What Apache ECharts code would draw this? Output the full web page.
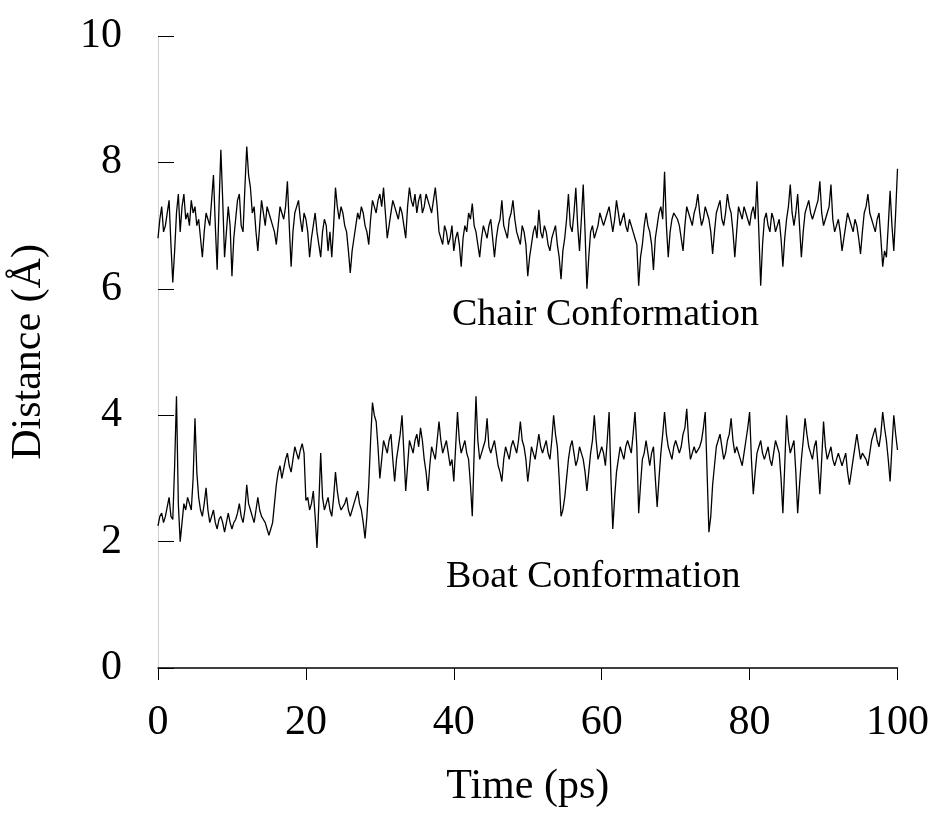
<!DOCTYPE html>
<html>
<head>
<meta charset="utf-8">
<title>Distance vs time</title>
<script src="https://cdn.jsdelivr.net/npm/echarts@6/dist/echarts.min.js"></script>
<style>
  html, body { margin: 0; padding: 0; background: #fff; }
  #chart { width: 932px; height: 816px; }
</style>
</head>
<body>
<div id="chart"></div>
<script>
// sampling step of the trajectory (ps)
var TIME_STEP = 0.25;

// chair conformation distance (A), every 0.25 ps
var chairDistance = [
  6.8, 7.1, 7.3, 6.9, 7.0, 7.2, 7.4, 6.7, 6.1, 6.6, 7.2, 7.5, 6.9, 7.3, 7.5, 7.1, 7.2, 7.0, 7.4, 7.2,
  7.3, 7.0, 7.1, 6.8, 6.5, 6.9, 7.2, 7.1, 7.0, 7.4, 7.8, 7.0, 6.3, 7.3, 8.2, 7.4, 6.5, 6.9, 7.3, 7.0,
  6.2, 6.8, 7.1, 7.4, 7.5, 7.0, 6.9, 7.6, 8.25, 7.8, 7.6, 7.2, 7.3, 6.9, 6.6, 7.0, 7.4, 7.2, 7.0, 7.3,
  7.3, 7.1, 7.0, 6.9, 6.7, 7.0, 7.3, 7.2, 7.1, 7.3, 7.7, 7.0, 6.35, 6.9, 7.2, 7.3, 7.4, 7.1, 6.9, 7.2,
  7.1, 6.9, 6.5, 6.8, 7.0, 7.2, 6.9, 6.7, 6.5, 6.9, 7.1, 7.0, 6.6, 6.9, 6.5, 7.0, 7.6, 7.3, 7.1, 7.3,
  7.2, 7.0, 6.9, 6.6, 6.25, 6.6, 6.8, 7.0, 7.2, 7.1, 7.3, 7.2, 7.0, 6.9, 6.7, 7.1, 7.4, 7.3, 7.2, 7.4,
  7.5, 7.3, 7.6, 7.2, 6.8, 7.0, 7.2, 7.4, 7.3, 7.2, 7.1, 7.3, 7.2, 7.0, 6.8, 7.3, 7.6, 7.4, 7.3, 7.5,
  7.2, 7.4, 7.5, 7.2, 7.3, 7.5, 7.4, 7.3, 7.2, 7.4, 7.6, 7.3, 6.9, 6.8, 6.7, 7.0, 6.9, 6.7, 6.8, 7.0,
  6.6, 6.8, 6.9, 6.7, 6.35, 6.8, 7.0, 6.9, 7.2, 7.1, 7.35, 7.0, 6.9, 6.7, 6.5, 6.8, 7.0, 6.9, 6.8, 7.0,
  7.1, 6.8, 6.5, 6.8, 7.0, 7.1, 7.4, 7.0, 6.9, 6.8, 7.1, 7.2, 7.4, 7.1, 6.9, 6.8, 6.7, 7.0, 6.9, 6.7,
  6.2, 6.5, 6.7, 6.9, 7.0, 6.8, 7.25, 6.9, 6.8, 7.0, 6.9, 6.7, 6.6, 6.8, 6.9, 7.0, 6.7, 6.5, 6.15, 6.6,
  6.8, 7.1, 7.5, 7.0, 6.9, 7.2, 7.6, 7.0, 6.6, 7.1, 7.65, 6.9, 6.0, 6.5, 6.9, 7.0, 6.8, 6.9, 7.0, 7.2,
  7.2, 7.0, 7.1, 7.2, 7.3, 7.1, 6.9, 7.1, 7.4, 7.2, 7.0, 7.1, 7.2, 7.0, 6.9, 7.1, 7.1, 6.9, 6.8, 6.7,
  6.05, 6.5, 6.7, 7.0, 7.2, 7.0, 6.9, 6.7, 6.3, 6.8, 7.0, 7.2, 7.3, 7.1, 7.85, 7.0, 6.5, 6.9, 7.1, 7.2,
  7.2, 7.1, 7.0, 6.8, 6.6, 7.0, 7.3, 7.2, 7.1, 7.0, 7.2, 7.3, 7.5, 7.2, 7.0, 7.1, 7.3, 7.2, 7.1, 6.9,
  6.55, 6.9, 7.2, 7.3, 7.4, 7.1, 7.0, 7.2, 7.5, 7.3, 7.2, 6.9, 6.5, 6.9, 7.3, 7.2, 7.1, 7.3, 7.2, 7.1,
  7.0, 7.2, 7.3, 7.1, 7.7, 6.9, 6.05, 6.7, 7.1, 7.2, 7.0, 6.9, 7.2, 7.1, 6.9, 7.0, 7.1, 6.8, 6.35, 6.8,
  7.1, 7.3, 7.65, 7.2, 7.0, 7.2, 7.5, 7.0, 6.5, 6.9, 7.2, 7.3, 7.4, 7.2, 7.1, 7.2, 7.3, 7.4, 7.7, 7.2,
  7.0, 7.1, 7.2, 7.3, 7.65, 7.1, 6.9, 7.0, 7.1, 6.9, 6.6, 6.8, 7.0, 7.2, 7.1, 7.0, 6.9, 7.1, 7.0, 6.8,
  6.55, 6.9, 7.2, 7.3, 7.5, 7.2, 7.1, 7.0, 6.9, 7.1, 7.2, 6.8, 6.35, 6.6, 6.5, 7.0, 7.55, 7.0, 6.6, 7.2, 7.9
];

// boat conformation distance (A)
var boatDistance = [
  2.25, 2.4, 2.45, 2.3, 2.4, 2.55, 2.7, 2.4, 2.35, 3.2, 4.3, 2.6, 2.0, 2.3, 2.6, 2.5, 2.7, 2.6, 2.5, 3.0,
  3.95, 3.1, 2.7, 2.5, 2.4, 2.6, 2.85, 2.5, 2.3, 2.4, 2.5, 2.3, 2.2, 2.35, 2.4, 2.3, 2.15, 2.3, 2.45, 2.3,
  2.2, 2.3, 2.35, 2.45, 2.6, 2.4, 2.3, 2.5, 2.9, 2.6, 2.5, 2.4, 2.3, 2.5, 2.7, 2.5, 2.4, 2.35, 2.3, 2.2,
  2.1, 2.2, 2.3, 2.6, 2.9, 3.1, 3.2, 3.0, 3.0, 3.3, 3.4, 3.2, 3.1, 3.3, 3.5, 3.4, 3.3, 3.45, 3.55, 3.4,
  2.65, 2.7, 2.5, 2.6, 2.8, 2.4, 1.9, 2.6, 3.4, 2.7, 2.5, 2.6, 2.7, 2.5, 2.4, 2.7, 3.1, 2.8, 2.6, 2.5,
  2.5, 2.6, 2.7, 2.5, 2.4, 2.5, 2.6, 2.7, 2.8, 2.6, 2.5, 2.3, 2.05, 2.4, 2.9, 3.6, 4.2, 4.0, 3.9, 3.5,
  3.0, 3.3, 3.6, 3.5, 3.4, 3.6, 3.7, 3.3, 2.95, 3.3, 3.5, 3.7, 4.0, 3.4, 2.8, 3.2, 3.6, 3.5, 3.4, 3.6,
  3.7, 3.5, 3.8, 3.6, 3.3, 3.1, 2.8, 3.2, 3.5, 3.4, 3.3, 3.6, 3.9, 3.6, 3.4, 3.5, 3.6, 3.4, 3.2, 3.3,
  2.95, 3.5, 4.05, 3.6, 3.4, 3.5, 3.6, 3.4, 3.3, 2.9, 2.4, 3.4, 4.3, 3.6, 3.3, 3.4, 3.5, 3.6, 3.95, 3.5,
  3.4, 3.5, 3.6, 3.4, 3.2, 3.1, 2.95, 3.3, 3.5, 3.4, 3.3, 3.5, 3.6, 3.5, 3.4, 3.6, 3.9, 3.6, 3.5, 3.3,
  2.95, 3.2, 3.5, 3.4, 3.3, 3.5, 3.7, 3.5, 3.4, 3.5, 3.6, 3.4, 3.3, 3.6, 4.0, 3.7, 3.5, 3.0, 2.4, 2.5,
  2.7, 3.0, 3.3, 3.5, 3.6, 3.4, 3.2, 3.3, 3.5, 3.4, 3.3, 3.1, 2.8, 3.1, 3.4, 3.6, 4.0, 3.6, 3.3, 3.4,
  3.5, 3.4, 3.2, 3.6, 4.05, 3.0, 2.2, 2.7, 3.1, 3.3, 3.5, 3.4, 3.3, 3.5, 3.6, 3.5, 3.4, 3.7, 4.05, 3.5,
  2.45, 2.9, 3.3, 3.4, 3.6, 3.4, 3.2, 3.4, 3.5, 3.0, 2.55, 3.0, 3.4, 3.7, 4.05, 3.7, 3.5, 3.4, 3.3, 3.5,
  3.6, 3.5, 3.4, 3.5, 3.7, 3.8, 4.1, 3.6, 3.3, 3.4, 3.5, 3.4, 3.4, 3.5, 3.6, 3.8, 4.05, 3.1, 2.15, 2.4,
  2.9, 3.2, 3.5, 3.6, 3.7, 3.5, 3.3, 3.4, 3.6, 3.7, 3.95, 3.6, 3.4, 3.5, 3.5, 3.3, 3.2, 3.4, 3.6, 3.8,
  4.05, 3.3, 2.75, 3.1, 3.4, 3.5, 3.6, 3.4, 3.3, 3.4, 3.5, 3.3, 3.2, 3.4, 3.6, 3.5, 3.4, 3.0, 2.45, 3.2,
  4.0, 3.6, 3.4, 3.5, 3.6, 3.1, 2.45, 2.9, 3.3, 3.6, 3.95, 3.7, 3.5, 3.4, 3.3, 3.5, 3.6, 3.2, 2.75, 3.3,
  3.9, 3.5, 3.3, 3.4, 3.5, 3.3, 3.2, 3.3, 3.4, 3.3, 3.2, 3.3, 3.4, 3.1, 2.9, 3.1, 3.3, 3.5, 3.7, 3.5,
  3.3, 3.4, 3.4, 3.3, 3.2, 3.4, 3.6, 3.7, 3.8, 3.6, 3.5, 3.7, 4.05, 3.8, 3.6, 3.3, 2.95, 3.5, 4.0, 3.7, 3.45
];

var seriesNames = ['Chair Conformation', 'Boat Conformation'];

var FONT = '"Liberation Serif", "DejaVu Serif", serif';

// pair every value with its time
var toPoints = function (arr) {
  var pts = [];
  for (var i = 0; i < arr.length; i++) {
    pts.push([i * TIME_STEP, arr[i]]);
  }
  return pts;
};

var chart = echarts.init(document.getElementById('chart'), null, {renderer: 'canvas'});

var option = {
  animation: false,
  backgroundColor: '#fff',
  grid: {left: 158, right: 32, top: 36, bottom: 148, containLabel: false},
  xAxis: {
    type: 'value',
    min: 0,
    max: 100,
    interval: 20,
    name: 'Time (ps)',
    nameLocation: 'middle',
    nameGap: 98,
    nameTextStyle: {fontFamily: FONT, fontSize: 42, color: '#000'},
    axisLine: {onZero: false, lineStyle: {color: '#000', width: 1.5}},
    axisTick: {show: true, inside: false, length: 12, lineStyle: {color: '#000', width: 1}},
    axisLabel: {fontFamily: FONT, fontSize: 42, color: '#000', margin: 34},
    splitLine: {show: false}
  },
  yAxis: {
    type: 'value',
    min: 0,
    max: 10,
    interval: 2,
    name: 'Distance (Å)',
    nameLocation: 'middle',
    nameRotate: 90,
    nameGap: 108,
    nameTextStyle: {fontFamily: FONT, fontSize: 42, color: '#000'},
    axisLine: {show: true, lineStyle: {color: '#c8c8c8', width: 1, type: 'dotted'}},
    axisTick: {show: true, inside: true, length: 16, lineStyle: {color: '#000', width: 1}},
    axisLabel: {fontFamily: FONT, fontSize: 42, color: '#000', margin: 36},
    splitLine: {show: false}
  },
  graphic: [
    {
      type: 'text',
      left: 452,
      top: 296,
      style: {text: seriesNames[0], font: '38px ' + FONT, fill: '#000'}
    },
    {
      type: 'text',
      left: 446,
      top: 558,
      style: {text: seriesNames[1], font: '38px ' + FONT, fill: '#000'}
    }
  ],
  series: [
    {
      name: seriesNames[0],
      type: 'line',
      data: toPoints(chairDistance),
      showSymbol: false,
      lineStyle: {color: '#000', width: 1.3}
    },
    {
      name: seriesNames[1],
      type: 'line',
      data: toPoints(boatDistance),
      showSymbol: false,
      lineStyle: {color: '#000', width: 1.3}
    }
  ]
};

chart.setOption(option);
</script>
</body>
</html>
